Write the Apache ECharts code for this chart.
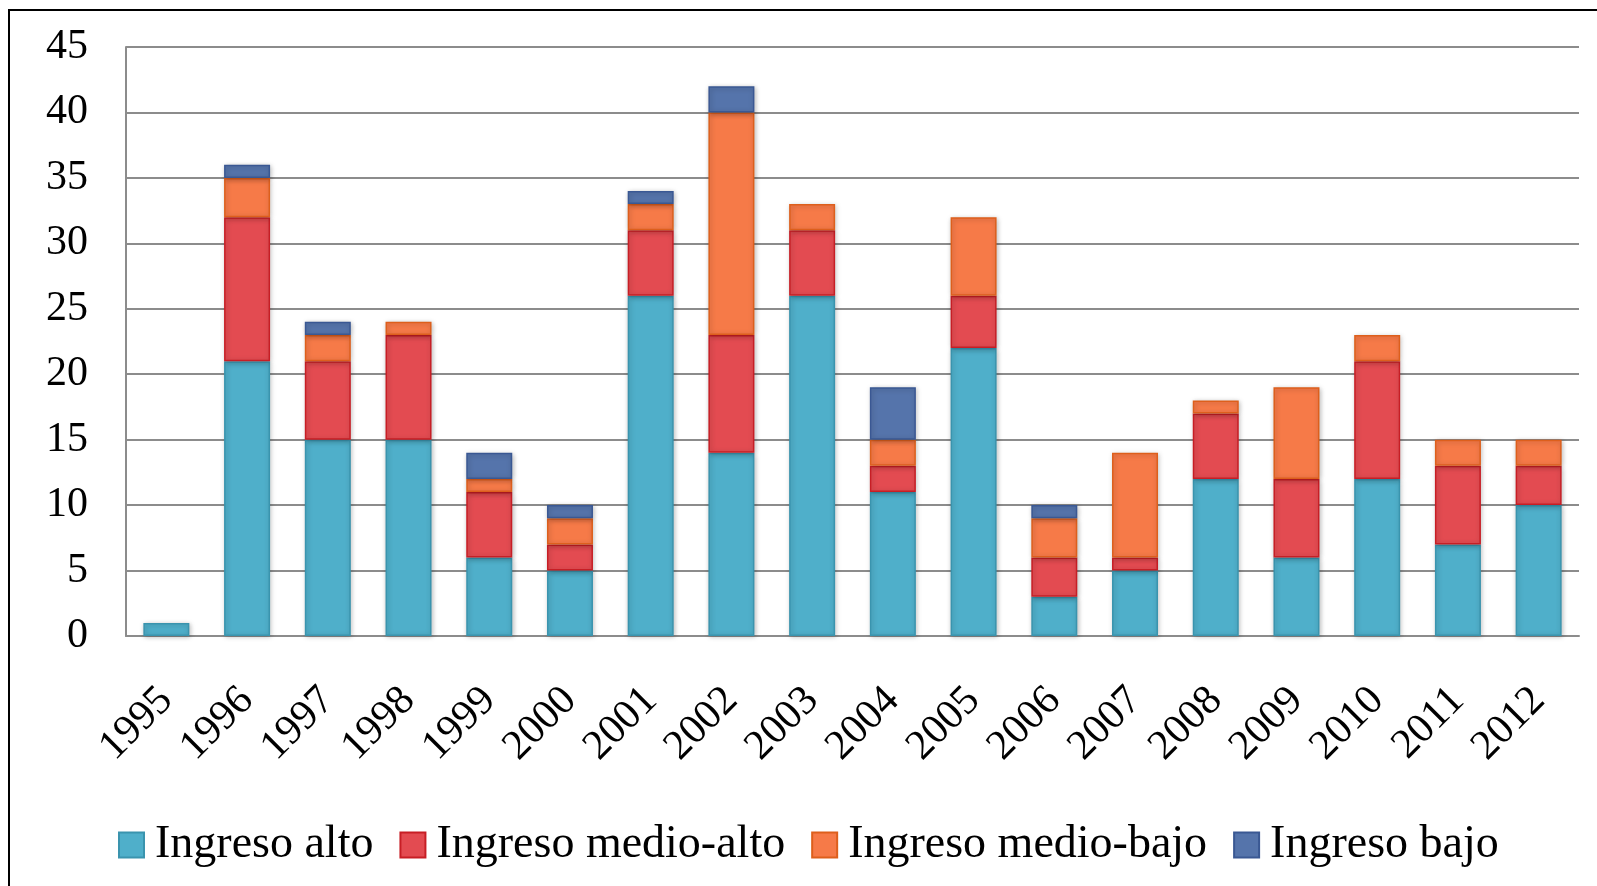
<!DOCTYPE html>
<html>
<head>
<meta charset="utf-8">
<script src="https://cdn.jsdelivr.net/npm/echarts@6/dist/echarts.min.js"></script>
<style>
  html, body { margin: 0; padding: 0; background: #fff; }
  #frame { position: absolute; left: 8px; top: 9px; width: 1700px; height: 1000px; border-left: 2px solid #000; border-top: 2px solid #000; }
  #chart { position: absolute; left: 0; top: 0; width: 1597px; height: 886px; }
</style>
</head>
<body>
<div id="frame"></div>
<div id="chart"></div>
<script>
// años
const years = ['1995', '1996', '1997', '1998', '1999', '2000', '2001', '2002', '2003',
  '2004', '2005', '2006', '2007', '2008', '2009', '2010', '2011', '2012']
// valores por grupo de ingreso
const ingresoAlto = [1, 21, 15, 15, 6, 5, 26, 14, 26, 11, 22, 3, 5, 12, 6, 12, 7, 10]
const ingresoMedioAlto = [0, 11, 6, 8, 5, 2, 5, 9, 5, 2, 4, 3, 1, 5, 6, 9, 6, 3]
const ingresoMedioBajo = [0, 3, 2, 1, 1, 2, 2, 17, 2, 2, 6, 3, 8, 1, 7, 2, 2, 2]
const ingresoBajo = [0, 1, 1, 0, 2, 1, 1, 2, 0, 4, 0, 1, 0, 0, 0, 0, 0, 0]

const seriesDefs = [
  { name: 'Ingreso alto', data: ingresoAlto, color: '#4FAFCA', border: '#3A94AE' },
  { name: 'Ingreso medio-alto', data: ingresoMedioAlto, color: '#E34B51', border: '#C71E25' },
  { name: 'Ingreso medio-bajo', data: ingresoMedioBajo, color: '#F67A48', border: '#DD5F1C' },
  { name: 'Ingreso bajo', data: ingresoBajo, color: '#5574AB', border: '#3A5893' }
]

const font = '"Liberation Serif", "DejaVu Serif", serif'
const myChart = echarts.init(document.getElementById('chart'))

const option = {
  animation: false,
  textStyle: { fontFamily: font },
  grid: { left: 126, right: 18, top: 47, bottom: 250 },
  legend: {
    top: 817,
    left: 113,
    itemWidth: 25,
    itemHeight: 25,
    itemGap: 26,
    icon: 'rect',
    textStyle: { fontSize: 46, color: '#000', fontFamily: font, padding: [0, 0, 0, 6] },
    data: seriesDefs.map(s => ({ name: s.name, itemStyle: { color: s.color, borderColor: s.border, borderWidth: 2 } }))
  },
  xAxis: {
    type: 'category',
    data: years,
    axisLine: { lineStyle: { color: '#8c8c8c', width: 2 } },
    axisTick: { show: false },
    axisLabel: { interval: 0, rotate: 45, margin: 58, fontSize: 42, color: '#000', fontFamily: font }
  },
  yAxis: {
    type: 'value',
    min: 0,
    max: 45,
    interval: 5,
    axisLine: { show: true, lineStyle: { color: '#8c8c8c', width: 2 } },
    axisTick: { show: false },
    axisLabel: { margin: 38, fontSize: 42, color: '#000', fontFamily: font },
    splitLine: { lineStyle: { color: '#8c8c8c', width: 2 } }
  },
  series: seriesDefs.map(s => ({
    name: s.name,
    type: 'bar',
    stack: 'total',
    barWidth: 46,
    data: s.data.map(v => (v === 0 ? null : v)),
    itemStyle: {
      color: s.color,
      borderColor: s.border,
      borderWidth: 1.5,
      shadowColor: 'rgba(0,0,0,0.25)',
      shadowBlur: 5,
      shadowOffsetX: 1,
      shadowOffsetY: 1
    }
  }))
}
myChart.setOption(option)
</script>
</body>
</html>
